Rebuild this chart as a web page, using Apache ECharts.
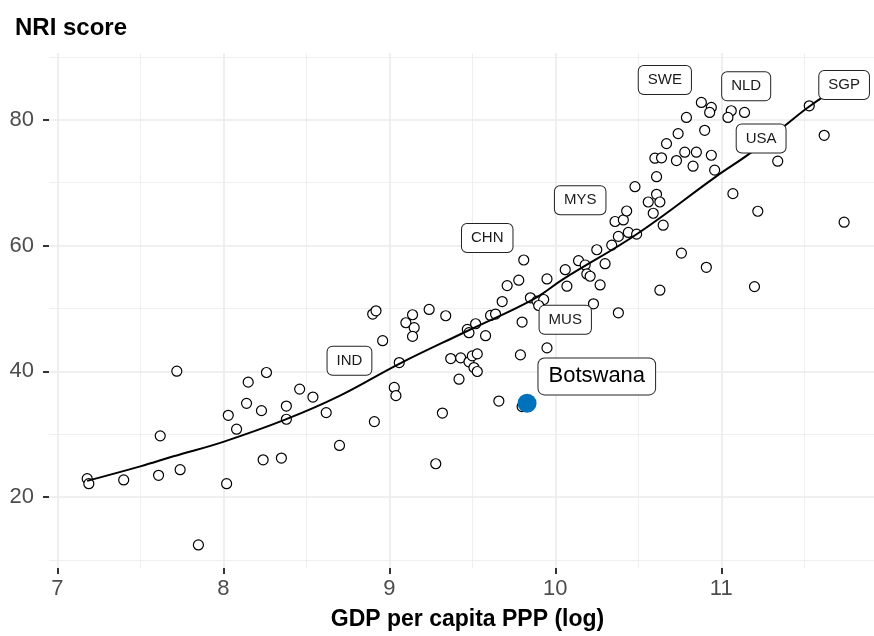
<!DOCTYPE html>
<html>
<head>
<meta charset="utf-8">
<script src="https://cdn.jsdelivr.net/npm/echarts@6/dist/echarts.min.js"></script>
<style>
  html, body { margin: 0; padding: 0; background: #fff; }
  #chart { width: 874px; height: 636px; }
</style>
</head>
<body>
<div id="chart"></div>
<script>
// log GDP per capita (PPP) and NRI score, one entry per country
const gdpLog = [
  7.18, 7.19, 7.40, 7.61, 7.74, 7.85, 8.02, 8.24, 8.35, 8.70,
  7.62, 7.72, 8.26, 8.15, 8.46, 8.54, 8.14, 8.23, 8.38, 8.38,
  8.03, 8.08, 8.62, 8.91, 8.96, 9.06, 9.03, 9.04, 8.90, 8.92,
  9.14, 9.10, 9.15, 9.14, 9.24, 9.34, 9.32, 9.28, 9.37, 9.42,
  9.43, 9.48, 9.50, 9.53, 9.51, 9.53, 9.47, 9.48, 9.52, 9.58,
  9.61, 9.64, 9.68, 9.71, 9.78, 9.95, 9.66, 9.80, 9.79, 9.85,
  9.89, 9.93, 9.90, 9.95, 10.07, 10.23, 9.80, 9.81, 10.06, 10.14,
  10.18, 10.19, 10.21, 10.25, 10.30, 10.27, 10.38, 10.34, 10.38, 10.44,
  10.49, 10.36, 10.41, 10.43, 10.48, 10.56, 10.61, 10.63, 10.59, 10.65,
  10.76, 10.91, 10.63, 11.20, 11.07, 11.22, 11.74, 10.88, 10.94, 10.93,
  11.06, 11.04, 11.14, 10.79, 10.90, 10.74, 10.67, 10.78, 10.85, 10.94,
  10.60, 10.64, 10.73, 10.83, 10.96, 10.61, 11.34, 11.53, 11.62
];
const nriScore = [
  22.95, 22.15, 22.74, 23.48, 24.37, 12.41, 22.15, 25.95, 26.22, 28.23,
  29.75, 40.03, 39.82, 38.29, 37.18, 35.92, 34.92, 33.76, 34.49, 32.39,
  33.02, 30.81, 33.45, 32.02, 44.88, 41.40, 37.45, 36.14, 49.11, 49.63,
  49.00, 47.73, 46.94, 45.56, 49.84, 48.84, 33.38, 25.32, 42.04, 38.76,
  42.15, 41.52, 42.46, 42.78, 40.61, 39.98, 46.67, 46.15, 47.57, 45.67,
  48.89, 49.11, 51.10, 53.63, 54.49, 54.69, 35.28, 47.84, 42.62, 51.69,
  51.16, 51.42, 50.47, 43.73, 53.54, 50.74, 34.40, 57.70, 56.16, 57.59,
  56.91, 55.48, 55.12, 59.33, 57.11, 53.74, 49.31, 60.07, 61.45, 62.08,
  61.81, 63.82, 64.07, 65.49, 69.35, 66.92, 68.14, 66.92, 65.13, 63.23,
  58.80, 56.54, 52.90, 53.47, 68.25, 65.45, 63.71, 82.74, 81.95, 81.15,
  81.42, 80.36, 81.15, 80.36, 78.31, 77.79, 76.20, 74.83, 74.83, 74.35,
  73.88, 73.94, 73.51, 72.61, 71.98, 70.94, 73.40, 82.21, 77.52
];

// fitted smooth line
const fitX = [7.18, 7.50, 7.70, 8.00, 8.38, 8.70, 9.06, 9.46, 9.87, 10.05, 10.49, 10.97, 11.17, 11.39, 11.53, 11.74];
const fitY = [22.6, 24.9, 26.5, 28.8, 32.4, 36.1, 41.2, 46.3, 51.5, 54.7, 61.8, 71.0, 74.6, 79.2, 82.1, 85.8];

// highlighted country
const bwaX = [9.83];
const bwaY = [34.92];

// repelled country labels
const labelText = ['SWE', 'NLD', 'SGP', 'USA', 'MYS', 'CHN', 'MUS', 'IND'];
const labelX = [10.66, 11.15, 11.74, 11.24, 10.15, 9.59, 10.06, 8.76];
const labelY = [86.3, 85.3, 85.5, 77.0, 67.2, 61.2, 48.2, 41.7];
const bwaLabelX = [10.25];
const bwaLabelY = [39.2];

const xTicks = [7, 8, 9, 10, 11];
const xMinor = [7.5, 8.5, 9.5, 10.5, 11.5];
const yTicks = [20, 40, 60, 80];
const yMinor = [10, 30, 50, 70, 90];

const font = '"Liberation Sans", Arial, sans-serif';
const gridColor = '#EBEBEB';

const chart = echarts.init(document.getElementById('chart'));

const labelBox = {
  show: true,
  position: 'inside',
  color: '#1a1a1a',
  fontFamily: font,
  fontSize: 15,
  backgroundColor: '#fff',
  borderColor: '#222',
  borderWidth: 1,
  borderRadius: 5,
  padding: [7, 9, 6, 9]
};

function majorAxis(ticks, extra) {
  return Object.assign({
    type: 'value',
    axisLine: { show: false },
    axisTick: { show: true, length: 6, customValues: ticks, lineStyle: { color: '#333', width: 2 } },
    axisLabel: { customValues: ticks, color: '#4D4D4D', fontFamily: font, fontSize: 22 },
    splitLine: { show: true, lineStyle: { color: gridColor, width: 1.6 } }
  }, extra);
}

function minorAxis(ticks, extra) {
  return Object.assign({
    type: 'value',
    axisLine: { show: false },
    axisTick: { show: false, customValues: ticks },
    axisLabel: { show: false, customValues: ticks },
    splitLine: { show: true, lineStyle: { color: gridColor, width: 0.8 } }
  }, extra);
}

chart.setOption({
  backgroundColor: '#fff',
  animation: false,
  title: {
    text: 'NRI score',
    left: 10,
    top: 11,
    textStyle: { fontFamily: font, fontSize: 24, fontWeight: 'bold', color: '#000' }
  },
  grid: { left: 49, right: 0, top: 53, bottom: 65.5 },
  xAxis: [
    majorAxis(xTicks, {
      min: 6.95, max: 11.92,
      axisLabel: { customValues: xTicks, color: '#4D4D4D', fontFamily: font, fontSize: 22, margin: 10 },
      name: 'GDP per capita PPP (log)',
      nameLocation: 'middle',
      nameGap: 40,
      nameTextStyle: { fontFamily: font, fontSize: 23, fontWeight: 'bold', color: '#000', padding: [0, 0, 0, 12] }
    }),
    minorAxis(xMinor, { min: 6.95, max: 11.92, position: 'bottom' })
  ],
  yAxis: [
    majorAxis(yTicks, {
      min: 8.75, max: 90.6,
      axisLabel: { customValues: yTicks, color: '#4D4D4D', fontFamily: font, fontSize: 22, margin: 15 }
    }),
    minorAxis(yMinor, { min: 8.75, max: 90.6, position: 'left' })
  ],
  series: [
    {
      type: 'scatter',
      data: gdpLog.map((x, i) => [x, nriScore[i]]),
      symbol: 'circle',
      symbolSize: 10,
      itemStyle: { color: '#fff', borderColor: '#000', borderWidth: 1.2, opacity: 1 },
      z: 3
    },
    {
      type: 'line',
      data: fitX.map((x, i) => [x, fitY[i]]),
      smooth: 0.4,
      showSymbol: false,
      lineStyle: { color: '#000', width: 2 },
      z: 4
    },
    {
      type: 'scatter',
      data: bwaX.map((x, i) => [x, bwaY[i]]),
      symbolSize: 19,
      itemStyle: { color: '#0072BC', opacity: 1 },
      z: 5
    },
    {
      type: 'scatter',
      data: labelX.map((x, i) => ({ value: [x, labelY[i]], name: labelText[i] })),
      symbolSize: 1,
      itemStyle: { color: 'transparent', opacity: 1 },
      label: Object.assign({}, labelBox, { formatter: (p) => p.name }),
      z: 6
    },
    {
      type: 'scatter',
      data: bwaLabelX.map((x, i) => ({ value: [x, bwaLabelY[i]], name: 'Botswana' })),
      symbolSize: 1,
      itemStyle: { color: 'transparent', opacity: 1 },
      label: Object.assign({}, labelBox, {
        formatter: (p) => p.name,
        fontSize: 22,
        color: '#000',
        borderRadius: 6,
        padding: [8, 10, 6, 10]
      }),
      z: 6
    }
  ]
});
</script>
</body>
</html>
